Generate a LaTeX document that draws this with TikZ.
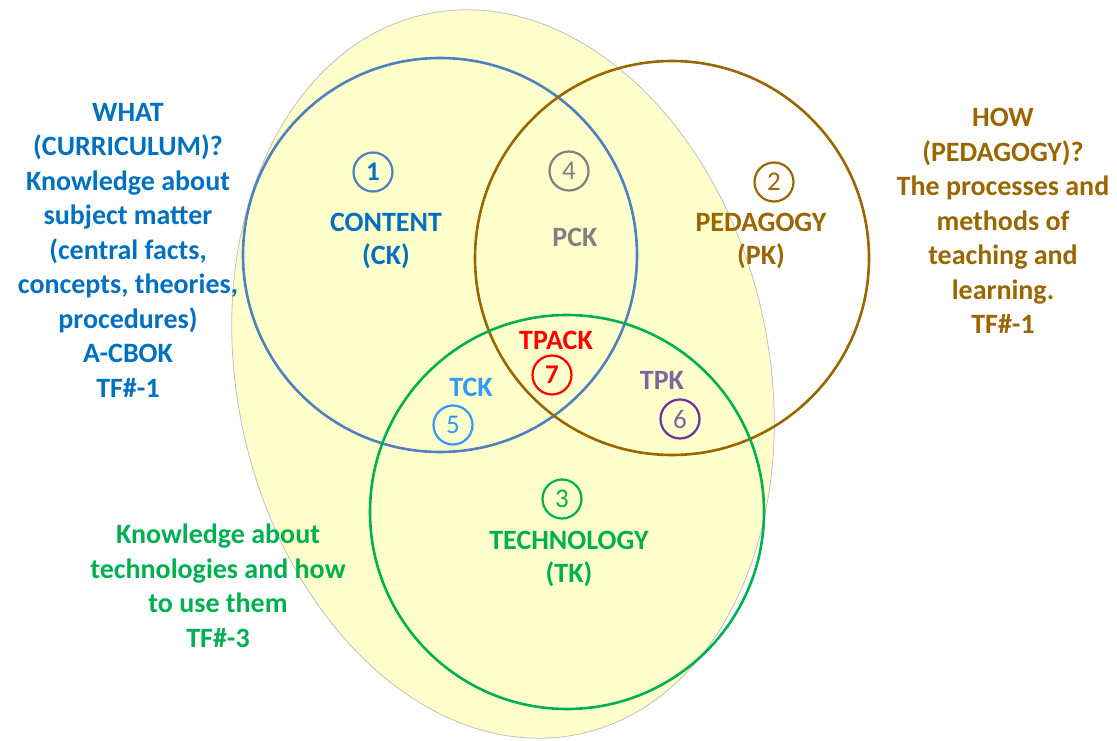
\documentclass[tikz,border=0pt]{standalone}
\usepackage{fontspec}
\setmainfont{Carlito}
\definecolor{ckblue}{RGB}{0,112,192}
\definecolor{ckline}{RGB}{79,129,189}
\definecolor{pkbrown}{RGB}{153,102,0}
\definecolor{tkgreen}{RGB}{0,176,80}
\definecolor{pckgray}{RGB}{128,128,128}
\definecolor{tckblue}{RGB}{51,153,255}
\definecolor{tpkpurple}{RGB}{128,100,162}
\definecolor{sixpurple}{RGB}{112,48,160}
\definecolor{paleyellow}{RGB}{255,255,204}
\tikzset{
	venn/.style={circle, draw, line width=2.6pt, minimum size=394pt, inner sep=0pt},
	badge/.style={circle, draw, line width=2.2pt, minimum size=39pt, inner sep=0pt, font=\fontsize{27}{27}\selectfont},
	lbl/.style={font=\fontsize{28}{33}\selectfont\bfseries, align=center},
	note/.style={font=\fontsize{28}{34.5}\selectfont\bfseries, align=center}
}
\begin{document}
\begin{tikzpicture}[x=1pt,y=-1pt]
	\useasboundingbox (0,0) rectangle (1117,741);
	% background ellipse
	\fill[paleyellow, draw=black!25, line width=0.8pt, rotate around={12:(503,374)}] (503,374) ellipse (266 and 368);
	% the three knowledge circles
	\node[venn, draw=ckline] (ck) at (440,255) {};
	\node[venn, draw=pkbrown] (pk) at (672,258) {};
	\node[venn, draw=tkgreen] (tk) at (567,512) {};
	% numbered badges
	\node[badge, draw=ckline, text=ckblue, font=\fontsize{27}{27}\selectfont\bfseries] (one) at (373,172) {1};
	\node[badge, draw=pkbrown, text=pkbrown] (two) at (774,182) {2};
	\node[badge, draw=tkgreen, text=tkgreen] (three) at (562,499) {3};
	\node[badge, draw=pckgray, text=pckgray] (four) at (569,171) {4};
	\node[badge, draw=tckblue, text=tckblue] (five) at (453,425) {5};
	\node[badge, draw=sixpurple, text=tpkpurple] (six) at (680,419) {6};
	\node[badge, draw=red, text=red, font=\fontsize{27}{27}\selectfont\bfseries] (seven) at (552,375) {7};
	% circle labels
	\node[lbl, text=ckblue] (content) at (386,241) {CONTENT\\(CK)};
	\node[lbl, text=pkbrown] (pedagogy) at (761,241) {PEDAGOGY\\(PK)};
	\node[lbl, text=tkgreen] (technology) at (569,559) {TECHNOLOGY\\(TK)};
	\node[lbl, text=pckgray] (pck) at (575,237) {PCK};
	\node[lbl, text=red] (tpack) at (556,340) {TPACK};
	\node[lbl, text=tckblue] (tck) at (471,387) {TCK};
	\node[lbl, text=tpkpurple] (tpk) at (662,380) {TPK};
	% side notes
	\node[note, text=ckblue] (what) at (128,250) {WHAT\\(CURRICULUM)?\\Knowledge about\\subject matter\\(central facts,\\concepts, theories,\\procedures)\\A-CBOK\\TF\#-1};
	\node[note, text=pkbrown] (how) at (1003,221) {HOW\\(PEDAGOGY)?\\The processes and\\methods of\\teaching and\\learning.\\TF\#-1};
	\node[note, text=tkgreen] (techknow) at (218,586) {Knowledge about\\technologies and how\\to use them\\TF\#-3};
\end{tikzpicture}
\end{document}
